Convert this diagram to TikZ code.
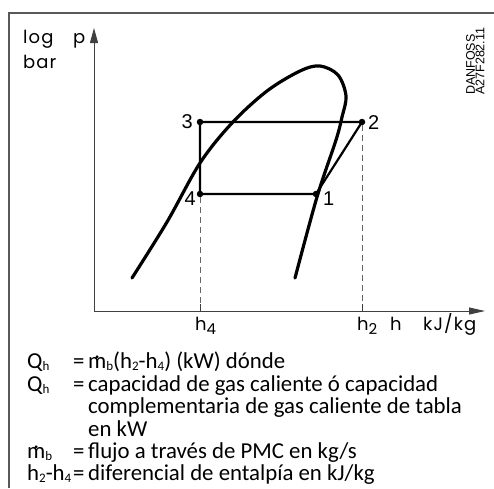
\documentclass[tikz,border=0pt]{standalone}
\usepackage{fontspec}
\setmainfont{Carlito}
\newfontfamily\geo[LetterSpace=6]{Poppins}
\newfontfamily\helv{Liberation Sans}
\usetikzlibrary{arrows.meta}
\newcommand\sbs[1]{\raisebox{-0.25ex}{\fontsize{13}{13}\selectfont #1}}
\newcommand\gsb[1]{\raisebox{-0.45ex}{\fontsize{15}{15}\selectfont #1}}
\newcommand\mdt{\ooalign{m\cr\hfil\raisebox{0.4em}{.}\hfil\cr}}
\begin{document}
\begin{tikzpicture}[x=1pt,y=-1pt,
  frame/.style={draw=black!65, line width=1.6pt},
  axis/.style={draw=black!75, line width=0.9pt},
  cyc/.style={line width=2.2pt, line cap=round, line join=round},
  sat/.style={line width=3.2pt, line cap=round},
  guide/.style={draw=black!60, line width=0.9pt, dash pattern=on 6pt off 4pt},
  dot/.style={circle, fill, inner sep=0pt, minimum size=6.5pt},
  num/.style={font=\helv\fontsize{20}{20}\selectfont, inner sep=0pt},
  geotxt/.style={font=\geo\fontsize{18}{18}\selectfont, inner sep=0pt, anchor=base west},
  body/.style={font=\fontsize{22.8}{22.8}\selectfont, inner sep=0pt, anchor=base west}]
\useasboundingbox (0,0) rectangle (494,488);
% frame
\coordinate (fbl) at (9,488);
\coordinate (ftl) at (9,13);
\coordinate (ftr) at (494,13);
\draw[frame] (fbl) -- (ftl) -- (ftr);
% axes
\coordinate (O) at (94,311);
\coordinate (ytop) at (94,28);
\coordinate (xend) at (485,311);
\draw[axis,-{Triangle[length=15pt,width=8pt]}] (O) -- (ytop);
\draw[axis,-{Triangle[length=16pt,width=7pt]}] (O) -- (xend);
% saturation dome
\draw[sat] plot[smooth,tension=0.55] coordinates {(132,278) (167,222) (200,163) (232,123) (267,91) (300,71) (320,66) (338,75) (346,96) (342,117) (336,140) (317,197) (295,278)};
% cycle points
\node[dot] (p1) at (316,194) {};
\node[dot] (p2) at (362,122) {};
\node[dot] (p3) at (200,122) {};
\node[dot] (p4) at (200,194) {};
\draw[cyc] (p3.center) -- (p2.center) -- (p1.center) -- (p4.center) -- cycle;
% guides
\draw[guide] (p4) -- (p4 |- O);
\draw[guide] (p2) -- (p2 |- O);
\coordinate (t4) at (200,304);
\coordinate (t2) at (362,304);
\draw[axis] (t4) -- (t4 |- O);
\draw[axis] (t2) -- (t2 |- O);
% point labels
\node[num, anchor=east] (l3) at (193,122) {3};
\node[num, anchor=west] (l2) at (368,123) {2};
\node[num, anchor=east] (l4) at (196,199) {4};
\node[num, anchor=west] (l1) at (323,199) {1};
% axis labels
\node[geotxt] (log) at (23,43) {log};
\node[geotxt] (p) at (73,43) {p};
\node[geotxt] (bar) at (23,68) {bar};
\node[geotxt] (h4) at (195,330) {h\gsb{4}};
\node[geotxt] (h2) at (357,330) {h\gsb{2}};
\node[geotxt] (h) at (390,330) {h};
\node[geotxt] (kjkg) at (423,330) {kJ/kg};
% code
\node[font=\helv\fontsize{12.5}{9.5}\selectfont, rotate=90, anchor=north west, align=left, inner sep=0pt] (code) at (466,95) {DANFOSS\\A27F282.11};
% legend
\node[body] (q1) at (27,368) {Q\sbs{h}};
\node[body] (e1) at (73,368) {=};
\node[body] (t1) at (88,368) {\mdt\sbs{b}(h\sbs{2}-h\sbs{4}) (kW) dónde};
\node[body] (q2) at (27,391) {Q\sbs{h}};
\node[body] (e2) at (73,391) {=};
\node[body] (t2a) at (88,391) {capacidad de gas caliente ó capacidad};
\node[body] (t3) at (88,413) {complementaria de gas caliente de tabla};
\node[body] (t4a) at (88,436) {en kW};
\node[body] (m5) at (27,458) {\mdt\sbs{b}};
\node[body] (e5) at (73,458) {=};
\node[body] (t5) at (88,458) {flujo a través de PMC en kg/s};
\node[body] (h6) at (27,480) {h\sbs{2}-h\sbs{4}};
\node[body] (e6) at (73,480) {=};
\node[body] (t6) at (88,480) {diferencial de entalpía en kJ/kg};
\end{tikzpicture}
\end{document}
